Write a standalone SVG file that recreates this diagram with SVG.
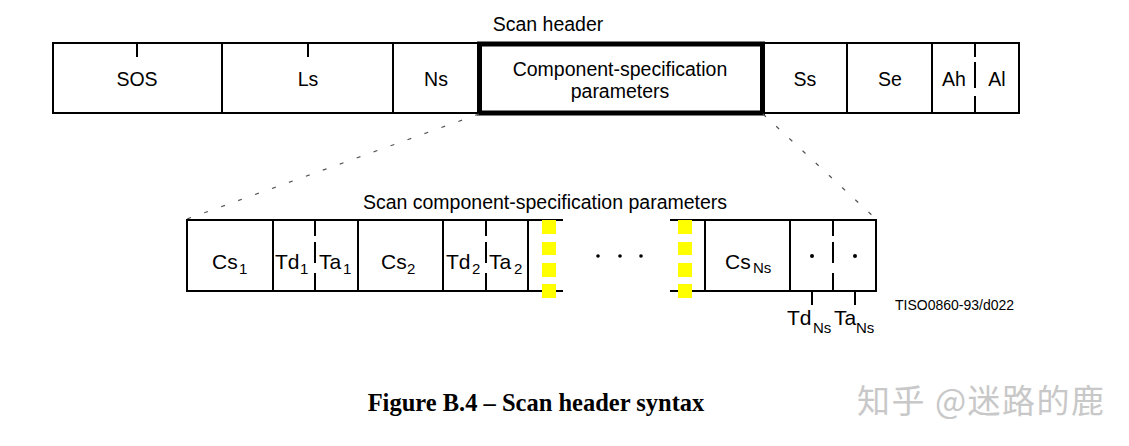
<svg xmlns="http://www.w3.org/2000/svg" width="1129" height="446" viewBox="0 0 1129 446">
<style>
.ln{stroke:#000;stroke-width:2;fill:#fff}
.seg{stroke:#000;stroke-width:2;fill:none}
.thick{stroke:#000;stroke-width:5;fill:#fff}
.t{font-family:"Liberation Sans",Arial,sans-serif;font-size:19.5px;fill:#000}
.c{text-anchor:middle}
.big{font-size:21px}
.sub{font-size:15px}
.persp{stroke:#555;stroke-width:1.2;stroke-dasharray:4 14;fill:none}
.y{fill:#ffff00}
.dot{fill:#000}
</style>
<rect width="1129" height="446" fill="#fff"/>

<text class="t c" x="548" y="31">Scan header</text>

<g id="sos"><rect class="ln" x="53" y="43" width="169" height="70"/><path class="seg" d="M137 43V57"/><text class="t c" x="137" y="86">SOS</text></g>
<g id="ls"><rect class="ln" x="222" y="43" width="171" height="70"/><path class="seg" d="M308 43V57"/><text class="t c" x="308" y="86">Ls</text></g>
<g id="ns"><rect class="ln" x="393" y="43" width="86" height="70"/><text class="t c" x="436" y="86">Ns</text></g>
<g id="ss"><rect class="ln" x="763" y="43" width="84" height="70"/><text class="t c" x="805" y="86">Ss</text></g>
<g id="se"><rect class="ln" x="847" y="43" width="85" height="70"/><text class="t c" x="890" y="86">Se</text></g>
<g id="ahal"><rect class="ln" x="932" y="43" width="87" height="70"/><path class="seg" d="M975 43V57M975 62V88M975 96V113"/><text class="t c" x="954" y="86">Ah</text><text class="t c" x="997" y="86">Al</text></g>
<g id="csp"><rect class="thick" x="479.5" y="44" width="283" height="69"/><text class="t c" x="620" y="76">Component-specification</text><text class="t c" x="620" y="98">parameters</text></g>

<g id="connectors">
<path class="persp" d="M479 114L187 219"/>
<path class="persp" d="M763 114L876 219"/>
<path class="seg" d="M812 263V305M855 263V305"/>
</g>

<text class="t c" x="545" y="209">Scan component-specification parameters</text>

<g id="cs1"><rect class="ln" x="187" y="220" width="86" height="71"/><text class="t big" x="212" y="269">Cs</text><text class="t sub" x="239" y="274">1</text></g>
<g id="tdta1"><rect class="ln" x="273" y="220" width="85" height="71"/><path class="seg" d="M315 220V236M315 242V263M315 273V291"/><text class="t big" x="275" y="269">Td</text><text class="t sub" x="300" y="274">1</text><text class="t big" x="319" y="269">Ta</text><text class="t sub" x="343" y="274">1</text></g>
<g id="cs2"><rect class="ln" x="358" y="220" width="85" height="71"/><text class="t big" x="381" y="269">Cs</text><text class="t sub" x="407" y="274">2</text></g>
<g id="tdta2"><rect class="ln" x="443" y="220" width="85" height="71"/><path class="seg" d="M486 220V236M486 242V263M486 273V291"/><text class="t big" x="446" y="269">Td</text><text class="t sub" x="472" y="274">2</text><text class="t big" x="489" y="269">Ta</text><text class="t sub" x="514" y="274">2</text></g>
<g id="break">
<path class="seg" d="M528 220H563M528 291H563M670 220H705M670 291H705"/>
<rect class="y" x="542" y="220" width="14" height="14"/><rect class="y" x="542" y="242" width="14" height="13"/><rect class="y" x="542" y="263" width="14" height="14"/><rect class="y" x="542" y="284" width="14" height="14"/>
<rect class="y" x="678" y="220" width="14" height="14"/><rect class="y" x="678" y="242" width="14" height="13"/><rect class="y" x="678" y="263" width="14" height="14"/><rect class="y" x="678" y="284" width="14" height="14"/>
<circle class="dot" cx="598" cy="256" r="1.8"/><circle class="dot" cx="620" cy="256" r="1.8"/><circle class="dot" cx="641" cy="256" r="1.8"/>
</g>
<g id="csns"><rect class="ln" x="705" y="220" width="85" height="71"/><text class="t big" x="725" y="269">Cs</text><text class="t sub" x="753" y="273">Ns</text></g>
<g id="tdtans"><rect class="ln" x="790" y="220" width="86" height="71"/><path class="seg" d="M833 220V236M833 242V263M833 273V291"/><circle class="dot" cx="812" cy="256" r="2"/><circle class="dot" cx="855" cy="256" r="2"/></g>
<g id="labels-ns"><text class="t big" x="787" y="325">Td</text><text class="t sub" x="813" y="333">Ns</text><text class="t big" x="834" y="325">Ta</text><text class="t sub" x="856" y="333">Ns</text></g>

<text class="t" x="895" y="310" style="font-size:14px">TISO0860-93/d022</text>

<text x="536" y="411" text-anchor="middle" style="font-family:'Liberation Serif','Times New Roman',serif;font-weight:bold;font-size:24.5px">Figure B.4 – Scan header syntax</text>

<text x="857" y="413" style="font-family:'Noto Sans CJK SC',sans-serif;font-size:33px;letter-spacing:1.5px;fill:#c8c8c8">知乎 @迷路的鹿</text>
</svg>
